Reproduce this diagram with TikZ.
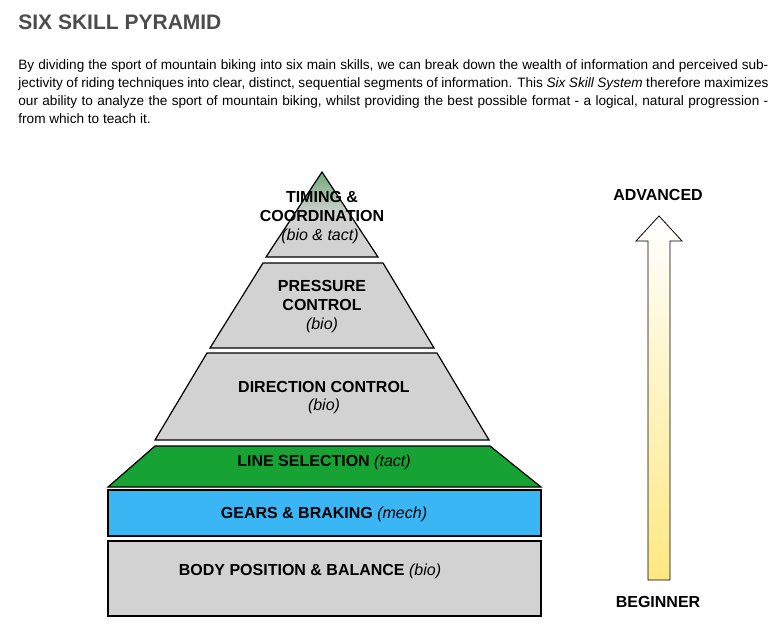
\documentclass[tikz,border=0pt]{standalone}
\usepackage{fontspec}
\setmainfont{Liberation Sans}
\definecolor{tiergray}{RGB}{210,210,210}
\definecolor{tiergreen}{RGB}{22,163,52}
\definecolor{tierblue}{RGB}{58,182,245}
\definecolor{tipgreen}{RGB}{110,170,120}
\definecolor{arrowyellow}{RGB}{255,232,130}
\begin{document}
\begin{tikzpicture}[
        x=1pt, y=-1pt,
        thick,
        font=\fontsize{16}{19}\selectfont\bfseries
    ]
    \tikzset{
        tier/.style = {draw=black, line width=1.2pt, fill=tiergray},
        lbl/.style = {align=center, inner sep=0pt},
        sub/.style = {font=\fontsize{16}{19}\selectfont\itshape},
    }
    \useasboundingbox (0,0) rectangle (784,642);
    %
    \node[anchor=west, inner sep=0pt, text=black!70, font=\fontsize{21}{24}\selectfont\bfseries] (title) at (18,22) {SIX SKILL PYRAMID};
    \node[anchor=north west, text width=750pt, inner sep=0pt, align=justify,
          font=\fontsize{13.6}{18}\selectfont] (intro) at (18,59)
        {By dividing the sport of mountain biking into six main skills, we can break down the wealth of information and perceived subjectivity of riding techniques into clear, distinct, sequential segments of information. This \textit{Six Skill System} therefore maximizes our ability to analyze the sport of mountain biking, whilst providing the best possible format - a logical, natural progression - from which to teach it.};
    %
    \begin{scope}
        \clip (322,172) -- (378,257) -- (266,257) -- cycle;
        \shade[top color=tipgreen, bottom color=tiergray, middle color=tiergray] (260,172) rectangle (384,257);
    \end{scope}
    \draw[draw=black, line width=1.2pt] (322,172) -- (378,257) -- (266,257) -- cycle;
    \draw[tier] (263,263) -- (383,263) -- (434,348) -- (210,348) -- cycle;
    \draw[tier] (207,353) -- (437,353) -- (489,440) -- (155,440) -- cycle;
    \draw[tier, fill=tiergreen] (155,446) -- (490,446) -- (541,487) -- (108,487) -- cycle;
    \draw[tier, fill=tierblue] (108,490) rectangle (541,536);
    \draw[tier] (108,541) rectangle (541,616);
    %
    \node[lbl] (timing) at (322,206) {TIMING \&\\COORDINATION};
    \node[lbl, sub] (timingsub) at (320,236) {(bio \& tact)};
    \node[lbl] (pressure) at (322,295) {PRESSURE\\CONTROL};
    \node[lbl, sub] (pressuresub) at (322,325) {(bio)};
    \node[lbl] (direction) at (324,387) {DIRECTION CONTROL};
    \node[lbl, sub] (directionsub) at (324,406) {(bio)};
    \node[lbl] (line) at (324,462) {LINE SELECTION \textmd{\itshape(tact)}};
    \node[lbl] (gears) at (324,514) {GEARS \& BRAKING \textmd{\itshape(mech)}};
    \node[lbl] (body) at (310,571) {BODY POSITION \& BALANCE \textmd{\itshape(bio)}};
    %
    \shade[top color=white, bottom color=arrowyellow, draw=black, line width=0.8pt]
        (648,580) -- (648,241) -- (636,241) -- (659,216) -- (682,241) -- (670,241) -- (670,580) -- cycle;
    \node[lbl] (advanced) at (658,195) {ADVANCED};
    \node[lbl] (beginner) at (658,602) {BEGINNER};
\end{tikzpicture}
\end{document}
